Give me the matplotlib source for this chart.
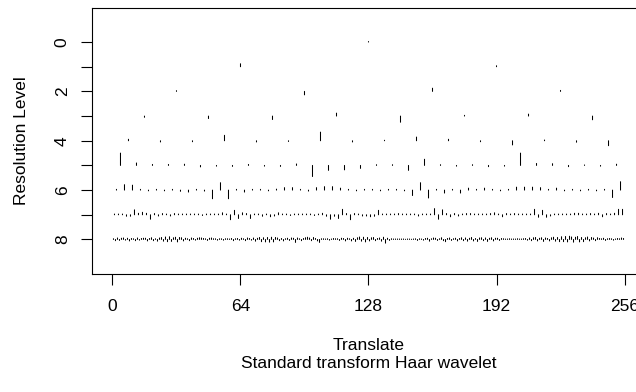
import matplotlib
matplotlib.use("Agg")
import matplotlib.pyplot as plt
import numpy as np

plt.rcParams['font.family'] = ['Liberation Sans', 'DejaVu Sans']

# Wavelet detail coefficients per resolution level (bar lengths in level units,
# positive = drawn upwards). Level j holds 2**j coefficients.
level0 = [0.02]
level1 = [0.12, 0.04]
level2 = [0.03, -0.14, 0.13, 0.04]
level3 = [-0.05, -0.1, -0.14, 0.12, -0.25, 0.03, 0.08, -0.15]
level4 = [0.06, -0.05, -0.04, 0.22, -0.05, -0.03, 0.35, -0.05,
          0.02, 0.15, 0.06, -0.04, -0.17, 0.03, -0.06, -0.2]
level5 = [0.5, 0.1, 0.04, 0.04, 0.05, -0.06, -0.03, -0.04,
          0.04, -0.03, -0.04, 0.06, -0.45, -0.2, -0.18, -0.12,
          0.03, 0.03, -0.2, 0.25, 0.03, -0.03, 0.03, -0.05,
          -0.03, 0.5, 0.08, 0.07, -0.05, 0.02, -0.03, 0.05]
level6 = [0.03, 0.22, 0.2, 0.03, -0.03, 0.03, -0.03, 0.03,
          -0.05, -0.08, 0.03, -0.04, -0.35, 0.3, -0.35, 0.03,
          -0.08, 0.03, 0.03, -0.03, 0.04, 0.1, 0.1, 0.03,
          -0.04, 0.1, 0.14, 0.14, 0.08, 0.03, -0.03, 0.03,
          0.03, -0.03, 0.03, 0.03, -0.03, -0.22, 0.3, -0.32,
          0.03, -0.12, 0.03, -0.12, 0.08, 0.03, 0.08, 0.03,
          -0.03, 0.03, 0.12, 0.12, 0.12, 0.1, 0.03, 0.08,
          -0.03, 0.03, -0.03, 0.03, -0.03, 0.03, -0.3, 0.34]
level7 = [0.03, 0.03, 0.03, -0.06, -0.06, 0.2, 0.06, 0.1,
          0.06, -0.18, 0.05, -0.05, 0.05, 0.03, -0.05, 0.05,
          0.03, 0.03, 0.03, 0.03, 0.03, 0.03, -0.03, 0.03,
          0.03, 0.03, 0.03, 0.08, 0.03, -0.2, 0.18, -0.15,
          0.08, 0.05, -0.15, 0.03, 0.03, -0.06, 0.03, -0.08,
          -0.05, 0.08, 0.03, 0.03, -0.03, 0.03, 0.03, 0.03,
          0.03, 0.03, -0.03, 0.03, 0.06, -0.06, -0.18, -0.06,
          -0.15, 0.22, 0.05, -0.2, 0.05, 0.03, -0.05, -0.05,
          -0.08, -0.06, 0.18, 0.03, 0.03, 0.03, 0.03, 0.05,
          0.03, 0.03, 0.03, 0.03, -0.05, 0.03, 0.03, 0.03,
          0.25, -0.18, 0.2, 0.05, -0.08, 0.05, -0.05, 0.03,
          0.05, 0.05, 0.03, 0.03, 0.03, 0.03, 0.05, 0.08,
          0.03, -0.08, 0.05, 0.03, 0.05, 0.03, 0.03, 0.03,
          0.03, 0.22, -0.1, 0.18, -0.1, -0.05, 0.03, 0.03,
          0.03, 0.03, 0.03, 0.06, 0.06, 0.03, 0.03, 0.05,
          0.03, 0.06, -0.08, 0.05, 0.03, 0.06, 0.22, 0.22]
level8 = [0.03, -0.05, 0.06, -0.04, 0.05, 0.06, -0.03, 0.05,
          -0.06, 0.04, 0.03, -0.05, 0.06, -0.03, 0.04, 0.05,
          0.05, -0.06, 0.04, 0.07, -0.05, 0.03, -0.07, 0.06,
          0.08, -0.07, 0.1, -0.09, 0.11, -0.08, 0.07, 0.09,
          -0.1, 0.08, 0.07, -0.06, 0.05, 0.03, -0.05, 0.06,
          0.04, -0.03, 0.05, 0.07, 0.06, 0.04, 0.03, -0.04,
          0.05, 0.06, 0.03, 0.03, -0.03, 0.03, 0.03, -0.03,
          0.03, 0.03, 0.02, 0.04, -0.05, 0.03, 0.04, -0.03,
          0.05, 0.03, -0.05, 0.06, 0.04, -0.03, 0.06, -0.07,
          0.05, 0.08, -0.09, 0.07, -0.1, 0.08, -0.11, 0.09,
          -0.1, 0.08, 0.06, -0.05, 0.04, -0.06, 0.03, 0.05,
          -0.04, 0.06, 0.05, -0.12, 0.06, 0.03, -0.05, 0.04,
          0.07, 0.09, 0.06, -0.05, 0.08, 0.04, -0.06, -0.12,
          0.03, 0.03, 0.02, 0.03, -0.03, 0.02, 0.04, 0.03,
          0.03, -0.04, 0.05, 0.04, -0.06, 0.05, 0.03, -0.06,
          0.05, -0.08, 0.07, 0.1, -0.07, 0.09, -0.1, 0.08,
          -0.06, 0.07, 0.08, -0.05, 0.04, 0.06, -0.07, 0.09,
          -0.15, 0.05, -0.04, 0.03, 0.02, 0.02, 0.02, 0.02,
          0.02, 0.02, 0.01, 0.02, 0.02, 0.01, 0.02, 0.03,
          -0.04, 0.03, 0.02, -0.03, 0.04, 0.05, -0.07, 0.03,
          0.06, 0.05, -0.04, 0.03, 0.07, -0.05, -0.09, 0.04,
          0.06, -0.04, 0.03, 0.05, -0.06, 0.04, 0.07, -0.05,
          0.06, -0.07, 0.05, 0.08, -0.06, 0.04, -0.08, 0.06,
          0.07, -0.05, 0.06, -0.08, 0.05, 0.07, -0.06, 0.05,
          0.05, -0.04, 0.04, 0.03, 0.02, 0.02, 0.03, 0.02,
          0.02, 0.02, 0.03, 0.02, 0.02, 0.03, 0.04, -0.03,
          0.06, -0.05, 0.07, 0.08, -0.06, 0.05, 0.07, -0.08,
          0.06, 0.04, -0.06, 0.07, 0.09, -0.07, 0.08, -0.09,
          0.11, -0.09, 0.12, -0.1, 0.13, 0.1, -0.11, 0.09,
          0.12, -0.1, 0.08, -0.09, 0.07, 0.1, -0.06, 0.08,
          0.06, -0.05, 0.07, 0.04, 0.03, 0.05, -0.04, 0.03,
          0.04, 0.03, -0.03, 0.02, 0.04, 0.03, 0.06, 0.04]

levels = [level0, level1, level2, level3, level4, level5, level6, level7, level8]
x_ticks = [0, 64, 128, 192, 256]
y_ticks = [0, 1, 2, 3, 4, 5, 6, 7, 8]
y_labels = ['0', '', '2', '', '4', '', '6', '', '8']
n_half = 256

W, H, DPI = 636, 392, 100
fig = plt.figure(figsize=(W / DPI, H / DPI), dpi=DPI)

# plot region in pixels (right edge runs past the figure border)
left_px, right_px, top_px, bottom_px = 92.0, 645.0, 7.5, 274.0
ax = fig.add_axes([left_px / W, 1 - bottom_px / H,
                   (right_px - left_px) / W, (bottom_px - top_px) / H])

for j, coeffs in enumerate(levels):
    c = np.asarray(coeffs)
    m = len(c)
    xs = (np.arange(m) + 0.5) * n_half / m
    lc = ax.vlines(xs, j, j - c, colors='black', linewidth=0.75)
    lc.set_capstyle('round')
    lc.set_snap(False)

ax.set_xlim(-0.04 * n_half, n_half * 1.04)
ax.set_ylim(9.4, -1.4)

ax.set_xticks(x_ticks)
ax.set_xticklabels([str(t) for t in x_ticks])
ax.set_yticks(y_ticks)
ax.set_yticklabels(y_labels)
ax.tick_params(axis='both', direction='out', length=8, width=0.8,
               labelsize=12.5, pad=10, color='black')
ax.tick_params(axis='y', labelrotation=90, pad=8)
for lab in ax.get_yticklabels():
    lab.set_verticalalignment('center')

for s in ax.spines.values():
    s.set_linewidth(0.8)

fig.text(369 / W, 1 - 345 / H, 'Translate', ha='center', va='center', fontsize=12.5)
fig.text(369 / W, 1 - 364 / H, 'Standard transform Haar wavelet',
         ha='center', va='center', fontsize=12.5)
fig.text(22 / W, 1 - 141 / H, 'Resolution Level', ha='center', va='center',
         rotation=90, fontsize=12.5)

fig.savefig('out.png', dpi=DPI)
